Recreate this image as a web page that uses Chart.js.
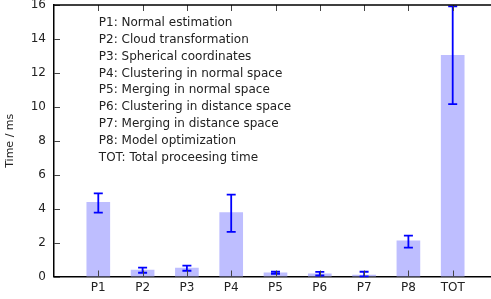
<!DOCTYPE html>
<html>
<head>
<meta charset="utf-8">
<script src="https://cdn.jsdelivr.net/npm/chart.js@4"></script>
<style>
  html, body { margin: 0; padding: 0; background: #fff; overflow: hidden; }
</style>
</head>
<body>
<canvas id="chart" width="497" height="299"></canvas>
<script>
// Chart data
const categories = ['', 'P1', 'P2', 'P3', 'P4', 'P5', 'P6', 'P7', 'P8', 'TOT', ''];
const meanTimes  = [null, 4.37, 0.38, 0.50, 3.76, 0.21, 0.15, 0.09, 2.10, 13.04, null];
const errLow     = [null, 3.76, 0.22, 0.34, 2.63, 0.15, 0.06, 0.01, 1.70, 10.16, null];
const errHigh    = [null, 4.90, 0.52, 0.64, 4.82, 0.28, 0.27, 0.28, 2.41, 15.92, null];
const yTicks     = [0, 2, 4, 6, 8, 10, 12, 14, 16];
const legendLines = [
    'P1: Normal estimation',
    'P2: Cloud transformation',
    'P3: Spherical coordinates',
    'P4: Clustering in normal space',
    'P5: Merging in normal space',
    'P6: Clustering in distance space',
    'P7: Merging in distance space',
    'P8: Model optimization',
    'TOT: Total proceesing time'
];

const FONT = '"DejaVu Sans", sans-serif';

// Inward ticks, top border, error bars and the text block
const decorPlugin = {
    id: 'decor',
    afterDatasetsDraw(chart) {
        const ctx = chart.ctx;
        const area = chart.chartArea;
        const x = chart.scales.x;
        const y = chart.scales.y;

        // error bars
        ctx.save();
        ctx.strokeStyle = '#0000ff';
        ctx.lineWidth = 1.8;
        for (let i = 0; i < categories.length; i++) {
            if (meanTimes[i] === null) continue;
            const px = x.getPixelForValue(i);
            const top = y.getPixelForValue(errHigh[i]);
            const bot = y.getPixelForValue(errLow[i]);
            ctx.beginPath();
            ctx.moveTo(px, top); ctx.lineTo(px, bot);
            ctx.moveTo(px - 4.5, top); ctx.lineTo(px + 4.5, top);
            ctx.moveTo(px - 4.5, bot); ctx.lineTo(px + 4.5, bot);
            ctx.stroke();
        }
        ctx.restore();

        // ticks
        ctx.save();
        ctx.strokeStyle = '#444';
        ctx.lineWidth = 1;
        ctx.beginPath();
        yTicks.forEach(function(v) {
            const py = Math.round(y.getPixelForValue(v)) + 0.5;
            ctx.moveTo(area.left, py); ctx.lineTo(area.left + 6, py);
            ctx.moveTo(area.right, py); ctx.lineTo(area.right - 6, py);
        });
        for (let i = 1; i < categories.length - 1; i++) {
            const px = Math.round(x.getPixelForValue(i)) + 0.5;
            ctx.moveTo(px, area.top); ctx.lineTo(px, area.top + 6);
            ctx.moveTo(px, area.bottom); ctx.lineTo(px, area.bottom - 6);
        }
        ctx.stroke();

        // top and right border
        ctx.strokeStyle = '#000';
        ctx.lineWidth = 1.5;
        ctx.beginPath();
        ctx.moveTo(area.left, area.top); ctx.lineTo(area.right, area.top);
        ctx.moveTo(area.right, area.top); ctx.lineTo(area.right, area.bottom);
        ctx.stroke();
        ctx.restore();

        // text block
        ctx.save();
        ctx.fillStyle = '#222';
        ctx.font = '12px ' + FONT;
        ctx.textBaseline = 'middle';
        legendLines.forEach(function(line, k) {
            ctx.fillText(line, x.getPixelForValue(1) + 0.5, y.getPixelForValue(15 - k) + 0.5);
        });
        ctx.restore();
    }
};

const ctx = document.getElementById('chart').getContext('2d');
new Chart(ctx, {
    type: 'bar',
    data: {
        labels: categories,
        datasets: [{
            data: meanTimes,
            backgroundColor: 'rgb(190, 190, 255)',
            borderWidth: 0,
            barThickness: 23
        }]
    },
    options: {
        responsive: false,
        animation: false,
        layout: { padding: { top: 5, right: 0, bottom: 0, left: 0 } },
        plugins: {
            legend: { display: false },
            tooltip: { enabled: false }
        },
        scales: {
            x: {
                offset: false,
                grid: { display: false, drawTicks: false },
                border: { display: true, color: '#000', width: 1.5 },
                ticks: {
                    color: '#222',
                    font: { family: FONT, size: 12 },
                    padding: 4,
                    autoSkip: false,
                    maxRotation: 0
                },
                afterFit: function(scale) {
                    scale.height = 22.5;
                    scale.paddingLeft = 0;
                    scale.paddingRight = 0;
                }
            },
            y: {
                min: 0,
                max: 16,
                grid: { display: false, drawTicks: false },
                border: { display: true, color: '#000', width: 1.5 },
                ticks: {
                    stepSize: 2,
                    color: '#222',
                    font: { family: FONT, size: 12 },
                    padding: 8
                },
                title: {
                    display: true,
                    text: 'Time / ms',
                    color: '#222',
                    font: { family: FONT, size: 11 },
                    padding: { top: 4, bottom: 0 }
                },
                afterFit: function(scale) {
                    scale.width = 54;
                    scale.paddingTop = 0;
                    scale.paddingBottom = 0;
                }
            }
        }
    },
    plugins: [decorPlugin]
});
</script>
</body>
</html>
